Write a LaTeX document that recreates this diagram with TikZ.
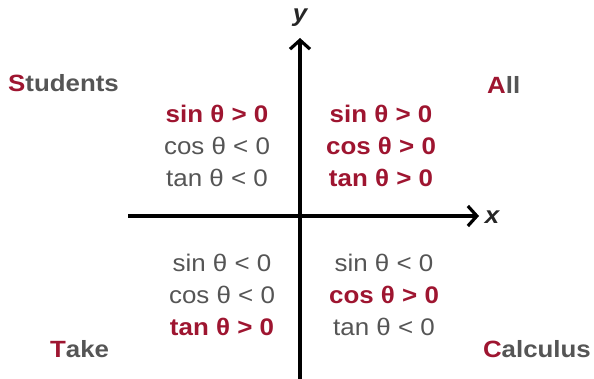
\documentclass[tikz,border=0pt]{standalone}
\usepackage{fontspec}
\setmainfont{Liberation Sans}
\usetikzlibrary{arrows.meta}
\definecolor{cred}{HTML}{9E1530}
\definecolor{cgray}{HTML}{555555}
\newcommand{\sx}[1]{\scalebox{1.08}[1]{#1}}
\newcommand{\sxl}[1]{\scalebox{1.1}[1]{#1}}
\tikzset{
  postxt/.style={font=\fontsize{24}{28}\selectfont\bfseries, text=cred, inner sep=0pt},
  negtxt/.style={font=\fontsize{24}{28}\selectfont, text=cgray, inner sep=0pt},
  lab/.style={font=\fontsize{23.5}{28}\selectfont\bfseries, text=cgray, inner sep=0pt},
  axis/.style={line width=3.2pt, -{Straight Barb[length=9pt,width=20pt]}},
  axlab/.style={font=\fontsize{24}{28}\selectfont\bfseries\itshape, text=black!85, inner sep=0pt}
}
\begin{document}
\begin{tikzpicture}[x=1pt,y=-1pt]
\useasboundingbox (0,0) rectangle (594,379);
\coordinate (ybot) at (300,381);
\coordinate (ytop) at (300,38);
\coordinate (xl) at (128,216);
\coordinate (xr) at (479,216);
\draw[axis] (ybot) -- (ytop);
\draw[axis] (xl) -- (xr);
\node[axlab] (ylab) at (300,18) {\sx{y}};
\node[axlab] (xlab) at (492,217) {\sx{x}};
% Q2
\node[postxt] (q2a) at (217,114) {\sx{sin θ > 0}};
\node[negtxt] (q2b) at (217,146) {\sx{cos θ < 0}};
\node[negtxt] (q2c) at (217,178) {\sx{tan θ < 0}};
% Q1
\node[postxt] (q1a) at (381,114) {\sx{sin θ > 0}};
\node[postxt] (q1b) at (381,146) {\sx{cos θ > 0}};
\node[postxt] (q1c) at (381,178) {\sx{tan θ > 0}};
% Q3
\node[negtxt] (q3a) at (222,263) {\sx{sin θ < 0}};
\node[negtxt] (q3b) at (222,295) {\sx{cos θ < 0}};
\node[postxt] (q3c) at (222,327) {\sx{tan θ > 0}};
% Q4
\node[negtxt] (q4a) at (384,263) {\sx{sin θ < 0}};
\node[postxt] (q4b) at (384,295) {\sx{cos θ > 0}};
\node[negtxt] (q4c) at (384,327) {\sx{tan θ < 0}};
% labels
\node[lab, anchor=west] (students) at (8,83) {\sxl{\textcolor{cred}{S}tudents}};
\node[lab, anchor=west] (all) at (487,85) {\sxl{\textcolor{cred}{A}ll}};
\node[lab, anchor=west] (take) at (50,349) {\sxl{\textcolor{cred}{T}ake}};
\node[lab, anchor=east] (calc) at (591,349) {\sxl{\textcolor{cred}{C}alculus}};
\end{tikzpicture}
\end{document}
